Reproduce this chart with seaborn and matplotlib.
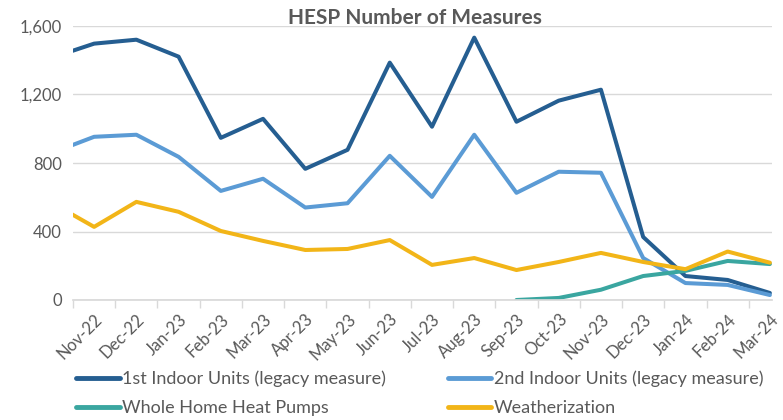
import numpy as np
import pandas as pd
import matplotlib.pyplot as plt
import seaborn as sns
from matplotlib.ticker import FixedLocator

sns.set_theme(style="white")
plt.rcParams['font.family'] = ['Lato', 'DejaVu Sans']

# Oct-22 sits just outside the visible range (the lines enter from the left edge)
months = ['Oct-22', 'Nov-22', 'Dec-22', 'Jan-23', 'Feb-23', 'Mar-23', 'Apr-23', 'May-23',
          'Jun-23', 'Jul-23', 'Aug-23', 'Sep-23', 'Oct-23', 'Nov-23', 'Dec-23',
          'Jan-24', 'Feb-24', 'Mar-24']
first_indoor = [1415, 1497, 1520, 1421, 947, 1058, 766, 877, 1386, 1012, 1532, 1041,
                1164, 1228, 368, 140, 117, 41]
second_indoor = [859, 953, 965, 836, 637, 708, 540, 565, 842, 602, 965, 626,
                 749, 743, 245, 99, 88, 29]
heat_pumps = [np.nan] * 11 + [0, 12, 60, 140, 170, 228, 210]
weatherization = [567, 427, 573, 515, 403, 345, 292, 298, 350, 205, 245, 175,
                  222, 275, 222, 180, 283, 218]

series = {
    '1st Indoor Units (legacy measure)': first_indoor,
    '2nd Indoor Units (legacy measure)': second_indoor,
    'Whole Home Heat Pumps': heat_pumps,
    'Weatherization': weatherization,
}
colors = ['#255E91', '#5B9BD5', '#3AA6A0', '#F2B518']

idx = np.arange(len(months)) - 1
df = pd.concat([pd.DataFrame({'x': idx, 'value': v, 'series': k}) for k, v in series.items()],
               ignore_index=True)

fig = plt.figure(figsize=(7.83, 4.2), dpi=100)
ax = fig.add_axes([73 / 783, 1 - 300 / 420, (772 - 73) / 783, (300 - 26) / 420])

sns.lineplot(data=df, x='x', y='value', hue='series', palette=colors, linewidth=2.9,
             ax=ax, legend=False)

ax.set_xlim(-0.5, 16.05)
ax.set_ylim(0, 1600)
ax.set_yticks([0, 400, 800, 1200, 1600])
ax.set_yticklabels(['0', '400', '800', '1,200', '1,600'])
ax.yaxis.grid(True, color='#d9d9d9', linewidth=1)
ax.set_axisbelow(True)

shown = idx[1:]
ax.set_xticks(shown)
ax.set_xticklabels(months[1:], rotation=45, ha='right', rotation_mode='anchor')
ax.xaxis.set_minor_locator(FixedLocator(shown - 0.5))
ax.tick_params(axis='x', which='major', length=0, pad=8, labelsize=12, labelcolor='#595959')
ax.tick_params(axis='x', which='minor', bottom=True, length=6, color='#d9d9d9', width=1)
ax.tick_params(axis='y', length=0, labelsize=12, labelcolor='#595959', pad=8)
ax.set_xlabel('')
ax.set_ylabel('')

for s in ['top', 'right', 'left']:
    ax.spines[s].set_visible(False)
ax.spines['bottom'].set_color('#d9d9d9')

fig.text(415 / 783, 1 - 18 / 420, 'HESP Number of Measures', ha='center', va='center',
         fontsize=15, fontweight='bold', color='#595959')

# legend is filled row by row in the reference
names = list(series.keys())
order = [0, 2, 1, 3]
handles = [plt.Line2D([], [], color=colors[i], linewidth=3.5) for i in order]
fig.legend(handles, [names[i] for i in order], ncol=2, loc='lower left',
           bbox_to_anchor=(60 / 783, -0.03), frameon=False, fontsize=13,
           labelcolor='#595959', handlelength=2.4, handletextpad=0.15,
           columnspacing=3.4, labelspacing=0.72)

fig.savefig('out.png', dpi=100)
